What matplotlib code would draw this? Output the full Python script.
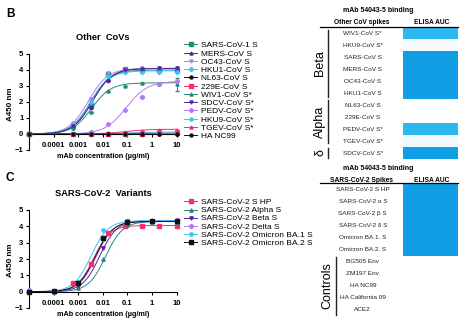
import numpy as np
import matplotlib
matplotlib.use("Agg")
import matplotlib.pyplot as plt
from matplotlib.lines import Line2D
from matplotlib.colors import LinearSegmentedColormap

plt.rcParams['font.family'] = ['Liberation Sans', 'DejaVu Sans']

W, H = 467, 326

# ---------------- Panel B data ----------------
b_x = [10, 2, 0.4, 0.08, 0.016, 0.0032, 0.00064, 0.00001]
b_names = ["SARS-CoV-1 S", "MERS-CoV S", "OC43-CoV S", "HKU1-CoV S", "NL63-CoV S",
           "229E-CoV S", "WIV1-CoV S*", "SDCV-CoV S*", "PEDV-CoV S*", "HKU9-CoV S*",
           "TGEV-CoV S*", "HA NC99"]
b_vals = [
    [4.0, 4.0, 4.0, 4.05, 3.75, 1.8, 0.55, 0.02],
    [4.05, 4.05, 4.05, 4.0, 3.4, 1.7, 0.5, 0.0],
    [4.1, 4.1, 4.1, 4.05, 3.8, 2.2, 0.7, 0.02],
    [3.9, 3.9, 3.9, 3.9, 3.6, 2.0, 0.6, 0.0],
    [-0.02, -0.02, -0.02, -0.02, -0.02, -0.02, -0.02, -0.02],
    [0.05, 0.05, 0.03, 0.02, 0.0, 0.0, 0.0, 0.0],
    [3.1, 3.1, 3.2, 3.0, 2.7, 1.4, 0.4, 0.0],
    [4.1, 4.1, 4.05, 4.0, 3.3, 1.6, 0.5, 0.0],
    [3.3, 3.1, 2.32, 1.5, 0.6, 0.1, 0.02, 0.0],
    [0.1, 0.08, 0.05, 0.03, 0.0, 0.0, 0.0, 0.0],
    [0.28, 0.25, 0.2, 0.12, 0.05, 0.02, 0.0, 0.0],
    [-0.03, -0.03, -0.03, -0.03, -0.03, -0.03, -0.03, -0.03],
]
b_err = [[0]*8 for _ in b_names]
b_err[6][0] = 0.4
b_err[8][2] = 0.08
# 4PL fit parameters: top, EC50, hill
b_top = [4.0, 4.1, 4.1, 3.95, -0.02, 0.06, 3.2, 4.1, 3.3, 0.12, 0.3, -0.03]
b_ec50 = [0.0032, 0.0038, 0.0026, 0.0032, 1.0, 0.05, 0.0035, 0.0038, 0.09, 0.1, 0.08, 1.0]
b_hill = [1.1, 1.1, 1.1, 1.1, 1.0, 1.0, 1.1, 1.1, 1.0, 1.0, 0.9, 1.0]

teal, purple, lav, lblue, black, pink = '#25897f', '#55239c', '#b07cf5', '#3cc4f4', '#111111', '#f72f6b'
b_colors = [teal, purple, lav, lblue, black, pink, teal, purple, lav, lblue, pink, black]
b_markers = ['s', '^', 'v', 'D', 'o', 's', '^', 'v', 'D', 'o', '^', 'o']

# ---------------- Panel C data ----------------
c_names = ["SARS-CoV-2 S HP", "SARS-CoV-2 Alpha S", "SARS-CoV-2 Beta S",
           "SARS-CoV-2 Delta S", "SARS-CoV-2 Omicron BA.1 S", "SARS-CoV-2 Omicron BA.2 S"]
c_x_hp = [10, 2, 0.4, 0.08, 0.016, 0.0032, 0.00064]
c_x = [10, 1, 0.1, 0.01, 0.001, 0.0001, 0.00001]
c_vals = [
    [4.0, 4.0, 4.02, 4.0, 3.6, 1.7, 0.5],
    [4.25, 4.25, 4.1, 2.0, 0.2, 0.0, -0.05],
    [4.35, 4.3, 4.3, 2.7, 0.35, 0.05, 0.0],
    [4.4, 4.35, 4.3, 3.2, 0.5, 0.05, 0.1],
    [4.35, 4.3, 4.3, 3.8, 0.6, 0.05, 0.0],
    [4.3, 4.3, 4.25, 3.3, 0.5, 0.05, -0.05],
]
c_top = [4.05, 4.3, 4.35, 4.35, 4.35, 4.3]
c_ec50 = [0.0042, 0.013, 0.0075, 0.0055, 0.0033, 0.005]
c_hill = [1.3, 1.25, 1.25, 1.25, 1.25, 1.25]
c_colors = [pink, teal, purple, lav, lblue, black]
c_markers = ['s', '^', 'v', 'D', 'o', 's']

# ---------------- Tables ----------------
tb_rows = ["WIV1-CoV S*", "HKU9-CoV S*", "SARS-CoV S", "MERS-CoV S", "OC43-CoV S",
           "HKU1-CoV S", "NL63-CoV S", "229E-CoV S", "PEDV-CoV S*", "TGEV-CoV S*", "SDCV-CoV S*"]
tb_auc = [0.75, 0.04, 1.0, 1.0, 1.0, 1.0, 0.0, 0.0, 0.75, 0.07, 1.0]
tb_groups = [("Beta", -0.3, 5.3), ("Alpha", 5.6, 9.2), ("δ", 9.6, 10.4)]

tc_rows = ["SARS-CoV-2 S HP", "SARS-CoV-2 α S", "SARS-CoV-2 β S", "SARS-CoV-2 δ S",
           "Omicron BA.1. S", "Omicron BA.2. S", "BG505 Env", "ZM197 Env", "HA NC99",
           "HA California 09", "ACE2"]
tc_auc = [1.0, 1.0, 1.0, 1.0, 1.0, 1.0, 0, 0, 0, 0, 0]

cmap = LinearSegmentedColormap.from_list(
    "auc", [(0, '#ffffff'), (0.1, '#eaf6fd'), (0.75, '#2bb7ef'), (1.0, '#109fe4')])


def fx(px):
    return px / W


def fy(py):
    return 1 - py / H


def fourpl(x, top, ec50, hill):
    return top / (1 + (ec50 / x) ** hill)


fig = plt.figure(figsize=(W / 100, H / 100), dpi=100)


def curve_axes(rect):
    ax = fig.add_axes(rect)
    ax.set_xscale('log')
    ax.set_xlim(1e-5, 10)
    ax.set_ylim(-1, 5)
    ax.spines['top'].set_visible(False)
    ax.spines['right'].set_visible(False)
    ax.spines['bottom'].set_position(('data', 0))
    for s in ['left', 'bottom']:
        ax.spines[s].set_linewidth(0.8)
    ax.set_xticks([1e-4, 1e-3, 1e-2, 1e-1, 1, 10])
    ax.set_xticklabels(["0.0001", "0.001", "0.01", "0.1", "1", "10"])
    ax.xaxis.set_minor_locator(matplotlib.ticker.NullLocator())
    ax.set_yticks([-1, 0, 1, 2, 3, 4, 5])
    ax.tick_params(axis='both', labelsize=5.5, width=0.8, length=2.5, pad=1.5)
    ax.tick_params(axis='x', pad=3.5)
    for t in ax.get_xticklabels() + ax.get_yticklabels():
        t.set_fontweight('bold')
    ax.patch.set_alpha(0)
    return ax


xs = np.logspace(-5, 1, 300)

# Panel B axes
axB = curve_axes([fx(29), fy(150), fx(176.5) - fx(29), fy(54) - fy(150)])
handles = []
for i, name in enumerate(b_names):
    axB.plot(xs, fourpl(xs, b_top[i], b_ec50[i], b_hill[i]), color=b_colors[i], lw=0.7)
    axB.errorbar(b_x, b_vals[i], yerr=b_err[i], fmt=b_markers[i], color=b_colors[i],
                 ms=2.2, elinewidth=0.7, capsize=1.2, clip_on=False, zorder=3)
    handles.append(Line2D([], [], color=b_colors[i], lw=0.7, marker=b_markers[i], ms=2.2))
fig.legend(handles, b_names, loc='upper left', bbox_to_anchor=(fx(184), fy(41.5)),
           frameon=False, fontsize=6.0, handlelength=1.6, handletextpad=0.45,
           labelspacing=0.05, borderpad=0, borderaxespad=0)

# Panel C axes
axC = curve_axes([fx(29), fy(308), fx(176.5) - fx(29), fy(210) - fy(308)])
handles = []
for i, name in enumerate(c_names):
    xv = c_x_hp if i == 0 else c_x
    axC.plot(xs, fourpl(xs, c_top[i], c_ec50[i], c_hill[i]), color=c_colors[i], lw=0.7)
    axC.plot(xv, c_vals[i], c_markers[i], color=c_colors[i], ms=2.4, clip_on=False, zorder=3)
    handles.append(Line2D([], [], color=c_colors[i], lw=0.7, marker=c_markers[i], ms=2.4))
fig.legend(handles, c_names, loc='upper left', bbox_to_anchor=(fx(184), fy(198.5)),
           frameon=False, fontsize=6.0, handlelength=1.6, handletextpad=0.45,
           labelspacing=0.03, borderpad=0, borderaxespad=0)

# Panel text
fig.text(fx(6), fy(14), "B", fontsize=8.5, fontweight='bold', va='center')
fig.text(fx(6), fy(178), "C", fontsize=8.5, fontweight='bold', va='center')
fig.text(fx(103), fy(38), "Other  CoVs", fontsize=6.7, fontweight='bold', ha='center', va='center')
fig.text(fx(103), fy(194), "SARS-CoV-2  Variants", fontsize=6.7, fontweight='bold', ha='center', va='center')
for yc in (104, 260):
    fig.text(fx(11), fy(yc), "A450 nm", fontsize=5.8, fontweight='bold', rotation=90,
             ha='center', va='center')
for yc in (156, 314):
    fig.text(fx(103), fy(yc), "mAb concentration (µg/ml)", fontsize=5.2, fontweight='bold',
             ha='center', va='center')


def table_axes(top_px, bottom_px, rows, auc, header, title_px):
    ax = fig.add_axes([fx(320), fy(bottom_px), fx(458) - fx(320), fy(top_px) - fy(bottom_px)])
    n = len(rows)
    ax.set_xlim(0, 1)
    ax.set_ylim(n - 0.5, -0.5)
    ax.axis('off')
    ax.plot([0, 1], [-0.5, -0.5], color='black', lw=0.9, clip_on=False)
    ax.barh(range(n), [0.4] * n, left=0.6, height=1.0, color=cmap(np.array(auc)), lw=0)
    for i, r in enumerate(rows):
        ax.text(0.31, i, r, fontsize=4.6, ha='center', va='center', color='#222222')
    fig.text(fx(362), fy(title_px + 12), header, fontsize=4.8, fontweight='bold',
             ha='center', va='center')
    fig.text(fx(432), fy(title_px + 12), "ELISA AUC", fontsize=4.8, fontweight='bold',
             ha='center', va='center')
    fig.text(fx(378), fy(title_px), "mAb 54043-5 binding", fontsize=5, fontweight='bold',
             ha='center', va='center')
    return ax


tB = table_axes(27.3, 159, tb_rows, tb_auc, "Other CoV spikes", 10)
for name, r0, r1 in tb_groups:
    tB.plot([0.058, 0.058], [r0, r1], color='#222222', lw=1.0, clip_on=False)
    tB.text(0.0, (r0 + r1) / 2, name, rotation=90, fontsize=9, ha='center', va='center')

tC = table_axes(183.5, 316, tc_rows, tc_auc, "SARS-CoV-2 Spikes", 169)
tC.plot([0.116, 0.116], [5.6, 10.4], color='#222222', lw=1.0, clip_on=False)
tC.text(0.05, 8.0, "Controls", rotation=90, fontsize=9, ha='center', va='center')

fig.savefig("out.png", dpi=100)
